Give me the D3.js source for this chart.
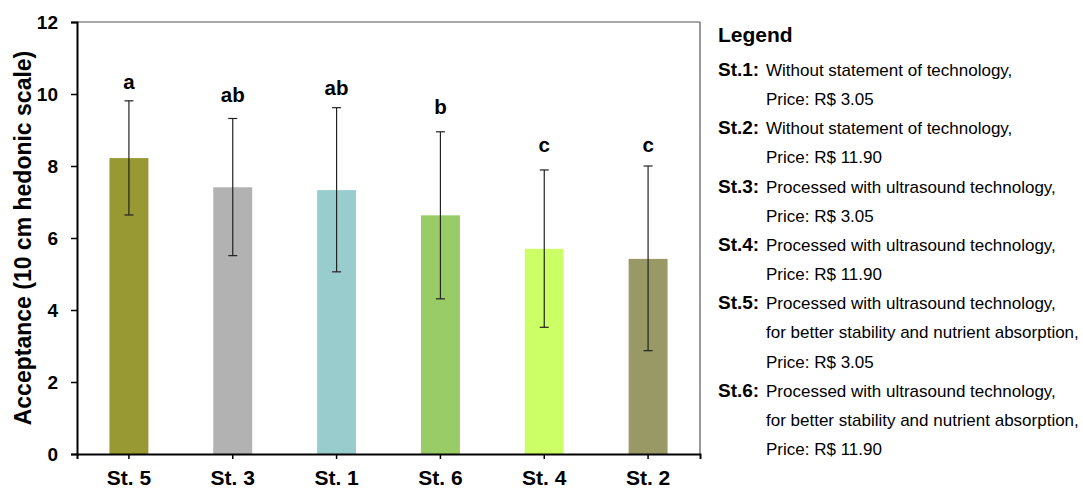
<!DOCTYPE html>
<html><head><meta charset="utf-8">
<script src="https://cdn.jsdelivr.net/npm/d3@7"></script>
<style>body{margin:0;background:#fff}svg{display:block}</style>
</head><body>
<script>
const categories = ["St. 5","St. 3","St. 1","St. 6","St. 4","St. 2"];
const means = [8.22, 7.41, 7.33, 6.63, 5.70, 5.42];
const errHigh = [9.81, 9.32, 9.62, 8.95, 7.89, 8.00];
const errLow = [6.64, 5.51, 5.06, 4.31, 3.52, 2.87];
const letters = ["a","ab","ab","b","c","c"];
const letterAt = [10.14, 9.77, 9.97, 9.44, 8.38, 8.38];
const colors = ["#999933","#b2b2b2","#99cccc","#99cc66","#ccff66","#999966"];
const yTicks = [0,2,4,6,8,10,12];
const legendTitle = "Legend";
const legendItems = [
  {key:"St.1:", lines:["Without statement of technology,","Price: R$ 3.05"]},
  {key:"St.2:", lines:["Without statement of technology,","Price: R$ 11.90"]},
  {key:"St.3:", lines:["Processed with ultrasound technology,","Price: R$ 3.05"]},
  {key:"St.4:", lines:["Processed with ultrasound technology,","Price: R$ 11.90"]},
  {key:"St.5:", lines:["Processed with ultrasound technology,","for better stability and nutrient absorption,","Price: R$ 3.05"]},
  {key:"St.6:", lines:["Processed with ultrasound technology,","for better stability and nutrient absorption,","Price: R$ 11.90"]}
];
const yTitle = "Acceptance (10 cm hedonic scale)";

const W = 1083, H = 488;
const L = 77, R = 700, T = 22, B = 454;
const font = "'Liberation Sans', Arial, sans-serif";
const svg = d3.select("body").append("svg").attr("width", W).attr("height", H)
  .style("font-family", font);

const x = d3.scaleBand().domain(categories).range([L, R]).paddingInner(0.625).paddingOuter(0.3125);
const y = d3.scaleLinear().domain([0, 12]).range([B, T]);

// frame top & right
svg.append("line").attr("x1", L).attr("x2", R).attr("y1", T).attr("y2", T).attr("stroke", "#555").attr("stroke-width", 1.2);
svg.append("line").attr("x1", R).attr("x2", R).attr("y1", T).attr("y2", B).attr("stroke", "#555").attr("stroke-width", 1.2);

// bars
svg.selectAll("rect.bar").data(categories).enter().append("rect")
  .attr("x", d => x(d)).attr("width", x.bandwidth())
  .attr("y", (d, i) => y(means[i])).attr("height", (d, i) => y(0) - y(means[i]))
  .attr("fill", (d, i) => colors[i]);

// error bars
const cx = d => x(d) + x.bandwidth() / 2;
const eg = svg.append("g").attr("stroke", "#222").attr("stroke-width", 1.2);
categories.forEach((d, i) => {
  eg.append("line").attr("x1", cx(d)).attr("x2", cx(d)).attr("y1", y(errHigh[i])).attr("y2", y(errLow[i]));
  eg.append("line").attr("x1", cx(d) - 4.5).attr("x2", cx(d) + 4.5).attr("y1", y(errHigh[i])).attr("y2", y(errHigh[i]));
  eg.append("line").attr("x1", cx(d) - 4.5).attr("x2", cx(d) + 4.5).attr("y1", y(errLow[i])).attr("y2", y(errLow[i]));
});

// letters
svg.selectAll("text.letter").data(categories).enter().append("text")
  .attr("x", d => cx(d)).attr("y", (d, i) => y(letterAt[i]))
  .attr("text-anchor", "middle").attr("font-weight", "bold").attr("font-size", 20.5)
  .text((d, i) => letters[i]);

// y axis
const ya = svg.append("g").attr("transform", `translate(${L},0)`)
  .call(d3.axisLeft(y).tickValues(yTicks).tickSize(6).tickPadding(13).tickFormat(d3.format("d")));
ya.select(".domain").attr("stroke", "#000").attr("stroke-width", 2);
ya.selectAll(".tick line").attr("stroke", "#000").attr("stroke-width", 1.5);
ya.selectAll("text").attr("font-family", font).attr("font-size", 19).attr("font-weight", "bold").attr("fill", "#000");

// x axis
const xa = svg.append("g").attr("transform", `translate(0,${B})`)
  .call(d3.axisBottom(x).tickSize(5).tickPadding(11).tickSizeOuter(5));
xa.select(".domain").attr("stroke", "#000").attr("stroke-width", 2);
xa.selectAll(".tick line").attr("stroke", "#000").attr("stroke-width", 1.5);
xa.selectAll("text").attr("font-family", font).attr("font-size", 21).attr("font-weight", "bold").attr("fill", "#000");

// y title
svg.append("text").attr("transform", `translate(31,${(T + B) / 2}) rotate(-90)`)
  .attr("text-anchor", "middle").attr("font-weight", "bold").attr("font-size", 23).text(yTitle);

// legend
const lg = svg.append("g");
lg.append("text").attr("x", 718).attr("y", 42).attr("font-weight", "bold").attr("font-size", 21).text(legendTitle);
let row = 0;
const lineY = r => 76 + 29.15 * r;
legendItems.forEach(it => {
  lg.append("text").attr("x", 718).attr("y", lineY(row)).attr("font-weight", "bold").attr("font-size", 19).text(it.key);
  it.lines.forEach(t => {
    lg.append("text").attr("x", 766).attr("y", lineY(row)).attr("font-size", 17).text(t);
    row++;
  });
});
</script>
</body></html>
